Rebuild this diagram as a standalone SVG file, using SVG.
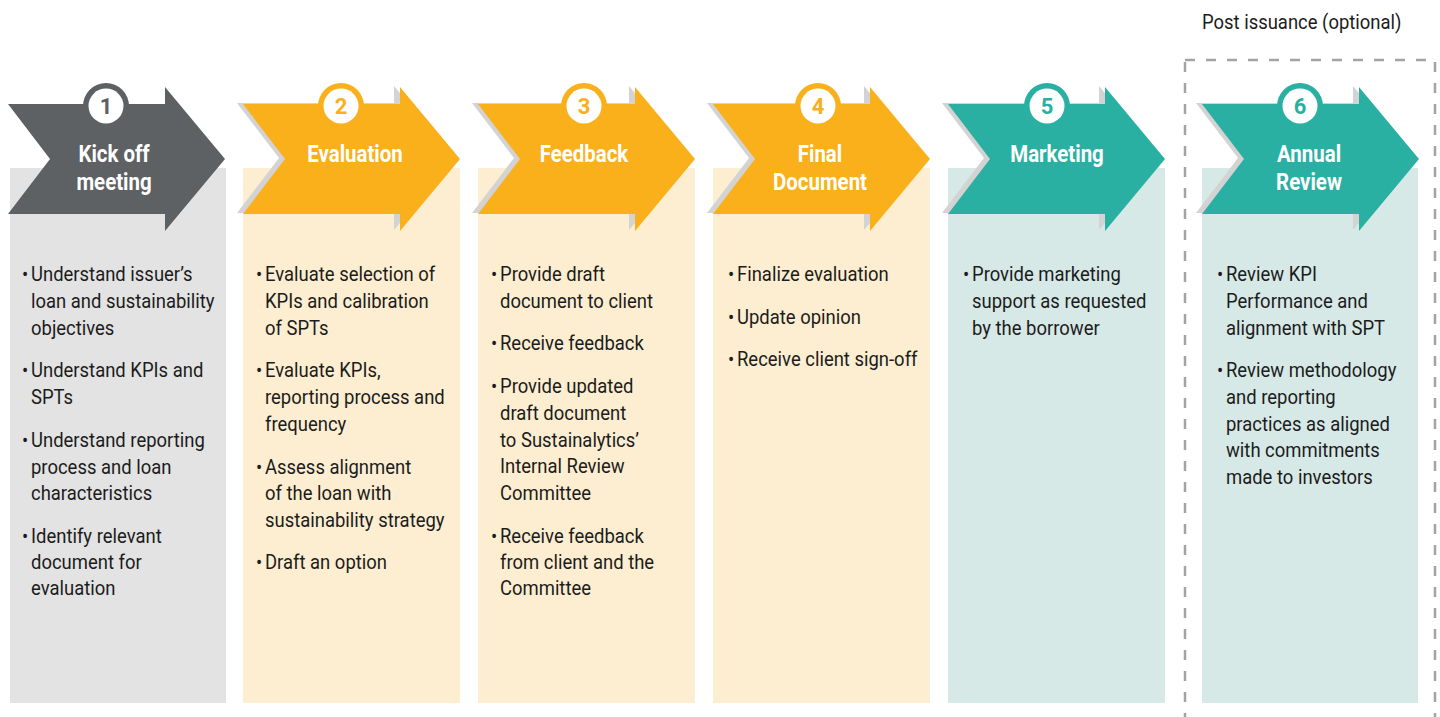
<svg xmlns="http://www.w3.org/2000/svg" width="1440" height="717" viewBox="0 0 1440 717">
  <defs>
    <!-- chevron arrow, drawn from its own left edge -->
    <path id="chev" d="M0,104 L157,104 L157,87 L217,159 L157,231 L157,214 L0,214 L42,159 Z"/>
    <style>
      .t { font-family: Roboto, "Liberation Sans", sans-serif; font-size: 20.5px; fill: #1c1c1c; }
      .h { font-family: Roboto, "Liberation Sans", sans-serif; font-size: 23.5px; font-weight: bold; fill: #ffffff; text-anchor: middle; }
      .n { font-family: Roboto, "Liberation Sans", sans-serif; font-size: 22px; font-weight: bold; text-anchor: middle; }
      .shadow { fill: #d3d3d3; }
      .gray { fill: #5d6163; }
      .orange { fill: #f9b01b; }
      .teal { fill: #2ab0a2; }
      .p-gray { fill: #e3e3e3; }
      .p-orange { fill: #fdeed1; }
      .p-teal { fill: #d6e9e7; }
    </style>
  </defs>

  <rect width="1440" height="717" fill="#ffffff"/>

  <!-- optional post-issuance frame -->
  <rect x="1185" y="60" width="250" height="680" fill="none" stroke="#a3a3a3" stroke-width="2.5" stroke-dasharray="10 11"/>
  <text class="t" x="0" y="0" transform="translate(1202 29) scale(0.9 1)">Post issuance (optional)</text>

  <!-- connectors: none, steps are chained chevrons -->
  <g id="connectors"/>

  <!-- Step 1 -->
  <g id="step1">
    <rect class="p-gray" x="10" y="168" width="216" height="535"/>
    <use href="#chev" class="gray" x="8"/>
    <circle class="gray" cx="106" cy="106" r="23"/>
    <circle fill="#ffffff" cx="106" cy="106" r="17.5"/>
    <text class="n" x="106" y="114" fill="#5d6163">1</text>
    <g transform="translate(114 0) scale(0.87 1)">
      <text class="h" x="0" y="162">Kick off</text>
      <text class="h" x="0" y="190">meeting</text>
    </g>
    <g transform="translate(31 0) scale(0.9 1)">
      <text class="t" x="-10" y="281">•</text>
      <text class="t" x="0" y="281">Understand issuer’s</text>
      <text class="t" x="0" y="308">loan and sustainability</text>
      <text class="t" x="0" y="335">objectives</text>
      <text class="t" x="-10" y="377">•</text>
      <text class="t" x="0" y="377">Understand KPIs and</text>
      <text class="t" x="0" y="404">SPTs</text>
      <text class="t" x="-10" y="447">•</text>
      <text class="t" x="0" y="447">Understand reporting</text>
      <text class="t" x="0" y="474">process and loan</text>
      <text class="t" x="0" y="500">characteristics</text>
      <text class="t" x="-10" y="543">•</text>
      <text class="t" x="0" y="543">Identify relevant</text>
      <text class="t" x="0" y="569">document for</text>
      <text class="t" x="0" y="595">evaluation</text>
    </g>
  </g>

  <!-- Step 2 -->
  <g id="step2">
    <rect class="p-orange" x="243" y="168" width="217" height="535"/>
    <use href="#chev" class="shadow" x="237" y="-1"/>
    <use href="#chev" class="orange" x="243"/>
    <circle class="orange" cx="341" cy="106" r="23"/>
    <circle fill="#ffffff" cx="341" cy="106" r="17.5"/>
    <text class="n" x="341" y="114" fill="#f9b01b">2</text>
    <g transform="translate(355 0) scale(0.87 1)">
      <text class="h" x="0" y="162">Evaluation</text>
    </g>
    <g transform="translate(265 0) scale(0.9 1)">
      <text class="t" x="-10" y="281">•</text>
      <text class="t" x="0" y="281">Evaluate selection of</text>
      <text class="t" x="0" y="308">KPIs and calibration</text>
      <text class="t" x="0" y="335">of SPTs</text>
      <text class="t" x="-10" y="377">•</text>
      <text class="t" x="0" y="377">Evaluate KPIs,</text>
      <text class="t" x="0" y="404">reporting process and</text>
      <text class="t" x="0" y="431">frequency</text>
      <text class="t" x="-10" y="474">•</text>
      <text class="t" x="0" y="474">Assess alignment</text>
      <text class="t" x="0" y="500">of the loan with</text>
      <text class="t" x="0" y="527">sustainability strategy</text>
      <text class="t" x="-10" y="569">•</text>
      <text class="t" x="0" y="569">Draft an option</text>
    </g>
  </g>

  <!-- Step 3 -->
  <g id="step3">
    <rect class="p-orange" x="478" y="168" width="217" height="535"/>
    <use href="#chev" class="shadow" x="472" y="-1"/>
    <use href="#chev" class="orange" x="478"/>
    <circle class="orange" cx="584" cy="106" r="23"/>
    <circle fill="#ffffff" cx="584" cy="106" r="17.5"/>
    <text class="n" x="584" y="114" fill="#f9b01b">3</text>
    <g transform="translate(584 0) scale(0.87 1)">
      <text class="h" x="0" y="162">Feedback</text>
    </g>
    <g transform="translate(500 0) scale(0.9 1)">
      <text class="t" x="-10" y="281">•</text>
      <text class="t" x="0" y="281">Provide draft</text>
      <text class="t" x="0" y="308">document to client</text>
      <text class="t" x="-10" y="350">•</text>
      <text class="t" x="0" y="350">Receive feedback</text>
      <text class="t" x="-10" y="393">•</text>
      <text class="t" x="0" y="393">Provide updated</text>
      <text class="t" x="0" y="420">draft document</text>
      <text class="t" x="0" y="447">to Sustainalytics’</text>
      <text class="t" x="0" y="473">Internal Review</text>
      <text class="t" x="0" y="500">Committee</text>
      <text class="t" x="-10" y="543">•</text>
      <text class="t" x="0" y="543">Receive feedback</text>
      <text class="t" x="0" y="569">from client and the</text>
      <text class="t" x="0" y="595">Committee</text>
    </g>
  </g>

  <!-- Step 4 -->
  <g id="step4">
    <rect class="p-orange" x="713" y="168" width="217" height="535"/>
    <use href="#chev" class="shadow" x="707" y="-1"/>
    <use href="#chev" class="orange" x="713"/>
    <circle class="orange" cx="818" cy="106" r="23"/>
    <circle fill="#ffffff" cx="818" cy="106" r="17.5"/>
    <text class="n" x="818" y="114" fill="#f9b01b">4</text>
    <g transform="translate(820 0) scale(0.87 1)">
      <text class="h" x="0" y="162">Final</text>
      <text class="h" x="0" y="190">Document</text>
    </g>
    <g transform="translate(737 0) scale(0.9 1)">
      <text class="t" x="-10" y="281">•</text>
      <text class="t" x="0" y="281">Finalize evaluation</text>
      <text class="t" x="-10" y="324">•</text>
      <text class="t" x="0" y="324">Update opinion</text>
      <text class="t" x="-10" y="366">•</text>
      <text class="t" x="0" y="366">Receive client sign-off</text>
    </g>
  </g>

  <!-- Step 5 -->
  <g id="step5">
    <rect class="p-teal" x="948" y="168" width="217" height="535"/>
    <use href="#chev" class="shadow" x="942" y="-1"/>
    <use href="#chev" class="teal" x="948"/>
    <circle class="teal" cx="1047" cy="106" r="23"/>
    <circle fill="#ffffff" cx="1047" cy="106" r="17.5"/>
    <text class="n" x="1047" y="114" fill="#2ab0a2">5</text>
    <g transform="translate(1057 0) scale(0.87 1)">
      <text class="h" x="0" y="162">Marketing</text>
    </g>
    <g transform="translate(972 0) scale(0.9 1)">
      <text class="t" x="-10" y="281">•</text>
      <text class="t" x="0" y="281">Provide marketing</text>
      <text class="t" x="0" y="308">support as requested</text>
      <text class="t" x="0" y="335">by the borrower</text>
    </g>
  </g>

  <!-- Step 6 -->
  <g id="step6">
    <rect class="p-teal" x="1202" y="168" width="216" height="535"/>
    <use href="#chev" class="shadow" x="1196" y="-1"/>
    <use href="#chev" class="teal" x="1202"/>
    <circle class="teal" cx="1300" cy="106" r="23"/>
    <circle fill="#ffffff" cx="1300" cy="106" r="17.5"/>
    <text class="n" x="1300" y="114" fill="#2ab0a2">6</text>
    <g transform="translate(1309 0) scale(0.87 1)">
      <text class="h" x="0" y="162">Annual</text>
      <text class="h" x="0" y="190">Review</text>
    </g>
    <g transform="translate(1226 0) scale(0.9 1)">
      <text class="t" x="-10" y="281">•</text>
      <text class="t" x="0" y="281">Review KPI</text>
      <text class="t" x="0" y="308">Performance and</text>
      <text class="t" x="0" y="335">alignment with SPT</text>
      <text class="t" x="-10" y="377">•</text>
      <text class="t" x="0" y="377">Review methodology</text>
      <text class="t" x="0" y="404">and reporting</text>
      <text class="t" x="0" y="431">practices as aligned</text>
      <text class="t" x="0" y="457">with commitments</text>
      <text class="t" x="0" y="484">made to investors</text>
    </g>
  </g>
</svg>
